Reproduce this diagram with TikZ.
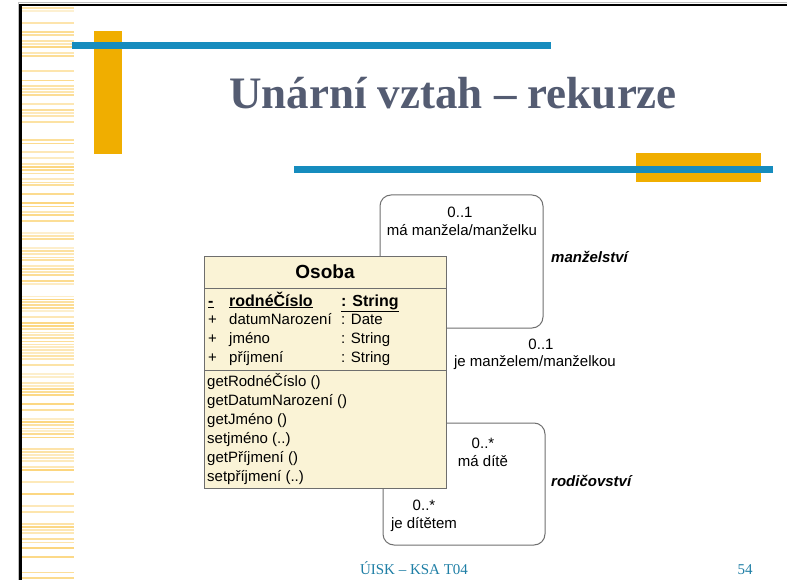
\documentclass[tikz,border=0pt]{standalone}
\usepackage{fontspec}
\setmainfont{Liberation Serif}
\newfontfamily\umlfont{Liberation Sans}
\definecolor{barblue}{RGB}{22,140,190}
\definecolor{baryel}{RGB}{240,174,0}
\definecolor{stripe}{RGB}{252,214,125}
\definecolor{titlecol}{RGB}{84,92,114}
\definecolor{footcol}{RGB}{31,127,166}
\definecolor{classfill}{RGB}{250,243,214}
\definecolor{classline}{RGB}{110,110,110}
\definecolor{loopline}{RGB}{112,112,112}
\tikzset{
  umltext/.style={font=\umlfont\fontsize{15}{18}\selectfont, inner sep=0pt, anchor=base west},
  umlbold/.style={font=\umlfont\bfseries\fontsize{16}{19}\selectfont, inner sep=0pt, anchor=base west},
  lbl/.style={font=\umlfont\fontsize{15}{18}\selectfont, inner sep=0pt, anchor=base},
  rel/.style={font=\umlfont\bfseries\itshape\fontsize{15}{18}\selectfont, inner sep=0pt, anchor=west},
  loopline/.style={draw=loopline, line width=1pt, rounded corners=11pt},
  footer/.style={font=\fontsize{15}{18}\selectfont, text=footcol, inner sep=0pt, anchor=base}
}
\begin{document}
\begin{tikzpicture}[x=1pt,y=-1pt]
\useasboundingbox (0,0) rectangle (787,580);
\fill[white] (0,0) rectangle (787,580);
% stripes
\pgfmathsetseed{11}
\foreach \i in {0,...,190}{
  \pgfmathsetmacro{\yy}{8+3*\i}
  \pgfmathsetmacro{\op}{rnd}
  \pgfmathsetmacro{\lw}{0.8+1.6*rnd}
  \ifdim \op pt>0.35pt
    \draw[stripe, line width=\lw pt, opacity=\op] (21,\yy) -- (74,\yy);
  \fi
}
% frame
\draw[gray!50, line width=1pt] (18,3) -- (787,3);
\draw[gray!50, line width=1pt] (18,3) -- (18,580);
\fill[black] (19,4) rectangle (787,6.5);
\fill[black] (19,4) rectangle (21.5,580);
% decorative bars
\fill[baryel] (94,31) rectangle (122,154);
\fill[barblue] (72,42) rectangle (551,49);
\fill[baryel] (636,153) rectangle (761,182);
\fill[barblue] (294,166) rectangle (773,173);
% title
\node[font=\bfseries\fontsize{45}{50}\selectfont, text=titlecol, inner sep=0pt, anchor=base] (title) at (453,109) {Unární vztah – rekurze};
% loops
\coordinate (ta) at (380,195);
\coordinate (tb) at (543,328);
\coordinate (ba) at (545,423);
\coordinate (bb) at (383,545);
\node[draw=classline, fill=classfill, line width=1pt, minimum width=242pt, minimum height=232pt, inner sep=0pt, anchor=north west] (osoba) at (204,256) {};
\draw[loopline] (osoba.north -| ta) |- (tb |- ta) |- (osoba.east |- tb);
\draw[loopline] (osoba.east |- ba) -| (ba |- bb) -| (osoba.south -| bb);
% class content
\node[font=\umlfont\bfseries\fontsize{19}{22}\selectfont, inner sep=0pt, anchor=base] (cname) at (325,278) {Osoba};
\draw[classline, line width=1pt] (204,288) -- (446,288);
\draw[classline, line width=1pt] (204,370) -- (446,370);
\node[umlbold] (a1v) at (208,306) {\underline{-}};
\node[umlbold] (a1n) at (229,306) {\underline{rodnéČíslo}};
\node[umlbold] (a1t) at (341,306) {\underline{: String}};
\node[umltext] (a2v) at (208,324) {+};
\node[umltext] (a2n) at (229,324) {datumNarození};
\node[umltext] (a2t) at (341,324) {: Date};
\node[umltext] (a3v) at (208,343) {+};
\node[umltext] (a3n) at (229,343) {jméno};
\node[umltext] (a3t) at (341,343) {: String};
\node[umltext] (a4v) at (208,362) {+};
\node[umltext] (a4n) at (229,362) {příjmení};
\node[umltext] (a4t) at (341,362) {: String};
\node[umltext] (m1) at (207,386) {getRodnéČíslo ()};
\node[umltext] (m2) at (207,405) {getDatumNarození ()};
\node[umltext] (m3) at (207,424) {getJméno ()};
\node[umltext] (m4) at (207,443) {setjméno (..)};
\node[umltext] (m5) at (207,462) {getPříjmení ()};
\node[umltext] (m6) at (207,481) {setpříjmení (..)};
% labels
\node[lbl] (l1) at (460,218) {0..1};
\node[lbl] (l2) at (462,236) {má manžela/manželku};
\node[rel] (r1) at (551,257) {manželství};
\node[lbl] (l3) at (541,349) {0..1};
\node[lbl] (l4) at (535,366) {je manželem/manželkou};
\node[lbl] (l5) at (483,448) {0..*};
\node[lbl] (l6) at (483,466) {má dítě};
\node[rel] (r2) at (551,481) {rodičovství};
\node[lbl] (l7) at (424,510) {0..*};
\node[lbl] (l8) at (424,528) {je dítětem};
% footer
\node[footer] (f1) at (414,574) {ÚISK – KSA T04};
\node[footer] (f2) at (745,574) {54};
\end{tikzpicture}
\end{document}
